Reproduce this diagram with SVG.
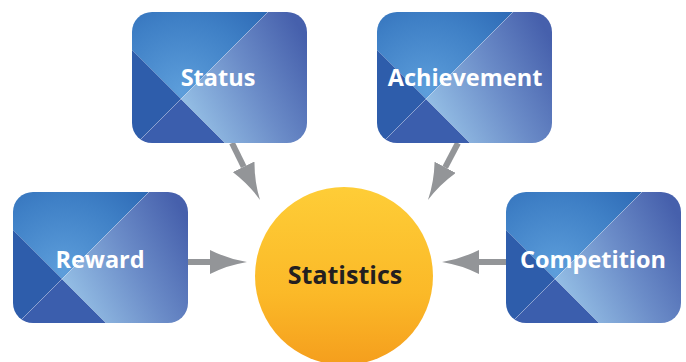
<svg xmlns="http://www.w3.org/2000/svg" xmlns:xlink="http://www.w3.org/1999/xlink" width="686" height="362" viewBox="0 0 686 362">
<style>
.lbl{font-family:"Open Sans","Liberation Sans",sans-serif;font-weight:700;fill:#ffffff;text-anchor:middle;font-size:23.5px}
.ctr{font-family:"Open Sans","Liberation Sans",sans-serif;font-weight:700;fill:#231f20;text-anchor:middle;font-size:25px}
.conn{stroke:#939598;stroke-width:6;fill:none;marker-end:url(#head)}
</style>
<defs>
<clipPath id="tclip"><rect x="0" y="0" width="175" height="131" rx="20" ry="20"/></clipPath>
<radialGradient id="gTL" gradientUnits="userSpaceOnUse" cx="50" cy="80" r="120">
<stop offset="0" stop-color="#5d9edb"/><stop offset="0.6" stop-color="#3f80c6"/><stop offset="1" stop-color="#2c68b4"/>
</radialGradient>
<linearGradient id="gR" gradientUnits="userSpaceOnUse" x1="55" y1="95" x2="175" y2="30">
<stop offset="0" stop-color="#93bde4"/><stop offset="0.5" stop-color="#6b8cc8"/><stop offset="1" stop-color="#4660ac"/>
</linearGradient>
<linearGradient id="gC" x1="0" y1="0" x2="0" y2="1">
<stop offset="0" stop-color="#fecd37"/><stop offset="0.6" stop-color="#fbb928"/><stop offset="1" stop-color="#f59e1d"/>
</linearGradient>
<marker id="head" markerUnits="userSpaceOnUse" viewBox="0 0 37 24" refX="0" refY="12" markerWidth="37" markerHeight="24" orient="auto">
<path d="M0,0 Q18,9 37,12 Q18,15 0,24 Z" fill="#939598"/>
</marker>
<g id="tile">
<g clip-path="url(#tclip)">
<polygon points="0,0 136,0 49,87 0,38" fill="url(#gTL)"/>
<polygon points="0,38 49,87 5,131 0,131" fill="#2e5dab"/>
<polygon points="5,131 49,87 93,131" fill="#3b5ead"/>
<polygon points="136,0 175,0 175,131 93,131 49,87" fill="url(#gR)"/>
<line x1="136" y1="0" x2="5" y2="131" stroke="#ffffff" stroke-opacity="0.25" stroke-width="1"/>
</g>
</g>
</defs>
<g id="connectors">
<line class="conn" x1="187" y1="262" x2="210" y2="262"/>
<line class="conn" x1="506" y1="262" x2="479" y2="262"/>
<line class="conn" x1="232" y1="143" x2="243.7" y2="166.8"/>
<line class="conn" x1="458" y1="143" x2="445.2" y2="167.3"/>
</g>
<g id="status">
<use xlink:href="#tile" x="132" y="12"/>
<text class="lbl" x="218" y="86">Status</text>
</g>
<g id="achievement">
<use xlink:href="#tile" x="377" y="12"/>
<text class="lbl" x="465" y="86">Achievement</text>
</g>
<g id="reward">
<use xlink:href="#tile" x="13" y="192"/>
<text class="lbl" x="100" y="268">Reward</text>
</g>
<g id="competition">
<use xlink:href="#tile" x="506" y="192"/>
<text class="lbl" x="593" y="268">Competition</text>
</g>
<g id="statistics">
<circle cx="344" cy="276" r="89" fill="url(#gC)"/>
<text class="ctr" x="345" y="284">Statistics</text>
</g>
</svg>
